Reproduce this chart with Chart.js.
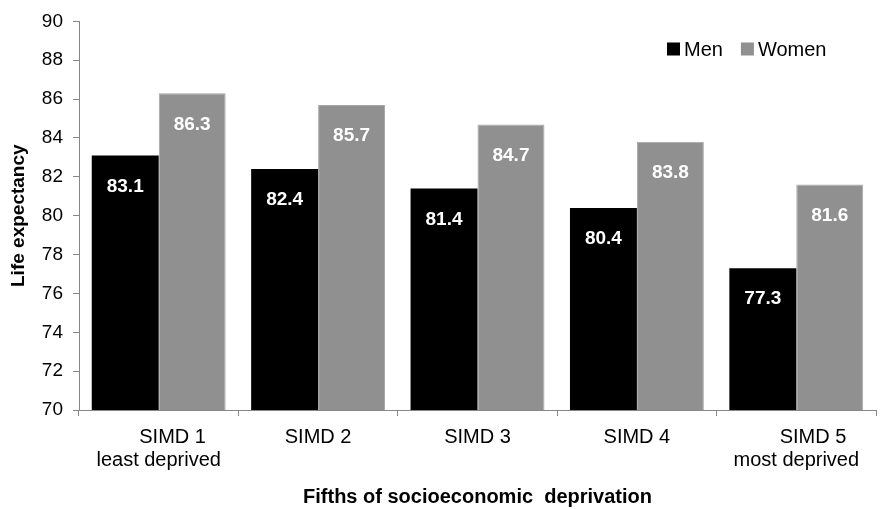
<!DOCTYPE html>
<html>
<head>
<meta charset="utf-8">
<script src="https://cdn.jsdelivr.net/npm/chart.js@4/dist/chart.umd.min.js"></script>
<style>
    html, body { margin: 0; padding: 0; background: #ffffff; }
    #wrap { width: 883px; height: 509px; }
</style>
</head>
<body>
<div id="wrap"><canvas id="chart1" width="883" height="509"></canvas></div>
<script>
// categories (leading spaces keep the first line shifted like the original)
var categories = [
    ['     SIMD 1', 'least deprived'],
    'SIMD 2',
    'SIMD 3',
    'SIMD 4',
    ['      SIMD 5', 'most deprived']
];
var men = [83.1, 82.4, 81.4, 80.4, 77.3];
var women = [86.3, 85.7, 84.7, 83.8, 81.6];
var yTicks = [70, 72, 74, 76, 78, 80, 82, 84, 86, 88, 90];

var FONT = "'Liberation Sans', Arial, sans-serif";
var AXIS_GREY = '#878787';

// white value labels inside the top of each bar
var valueLabels = {
    id: 'valueLabels',
    afterDatasetsDraw: function (chart) {
        var ctx = chart.ctx;
        ctx.save();
        ctx.fillStyle = '#ffffff';
        ctx.font = 'bold 19px ' + FONT;
        ctx.textAlign = 'center';
        ctx.textBaseline = 'middle';
        chart.data.datasets.forEach(function (ds, i) {
            chart.getDatasetMeta(i).data.forEach(function (bar, j) {
                ctx.fillText(ds.data[j].toFixed(1), bar.x, bar.y + 31);
            });
        });
        ctx.restore();
    }
};

// legend sitting inside the plot, top right
var innerLegend = {
    id: 'innerLegend',
    afterDraw: function (chart) {
        var ctx = chart.ctx;
        var x = chart.chartArea.right - 209;
        var y = 49;
        ctx.save();
        ctx.font = '20px ' + FONT;
        ctx.textBaseline = 'middle';
        ctx.textAlign = 'left';
        chart.data.datasets.forEach(function (ds) {
            ctx.fillStyle = ds.backgroundColor;
            ctx.fillRect(x, y - 6.5, 13, 13);
            ctx.fillStyle = '#000000';
            ctx.fillText(ds.label, x + 17, y + 1);
            x += 17 + ctx.measureText(ds.label).width + 18;
        });
        ctx.restore();
    }
};

document.addEventListener("DOMContentLoaded", function () {
    var ctx = document.getElementById('chart1').getContext('2d');
    var barChart = new Chart(ctx, {
        type: 'bar',
        data: {
            labels: categories,
            datasets: [{
                label: 'Men',
                data: men,
                backgroundColor: '#000000',
                categoryPercentage: 0.84,
                barPercentage: 1.0
            }, {
                label: 'Women',
                data: women,
                backgroundColor: '#909090',
                borderColor: '#a6a6a6',
                borderWidth: 1,
                categoryPercentage: 0.84,
                barPercentage: 1.0
            }]
        },
        options: {
            responsive: false,
            animation: false,
            layout: {
                padding: { top: 20, right: 7, left: 0, bottom: 0 }
            },
            plugins: {
                legend: { display: false },
                tooltip: { enabled: false }
            },
            scales: {
                x: {
                    afterFit: function (s) { s.height = 99; },
                    ticks: {
                        color: '#000000',
                        padding: 10,
                        maxRotation: 0,
                        autoSkip: false,
                        font: { family: FONT, size: 20, lineHeight: 1.15 }
                    },
                    grid: {
                        display: true,
                        drawOnChartArea: false,
                        color: AXIS_GREY,
                        tickLength: 6
                    },
                    border: { color: AXIS_GREY, width: 1 },
                    title: {
                        display: true,
                        text: 'Fifths of socioeconomic  deprivation',
                        color: '#000000',
                        padding: { top: 0, bottom: 0 },
                        font: { family: FONT, size: 20, weight: 'bold', lineHeight: 1.15 }
                    }
                },
                y: {
                    min: 70,
                    max: 90,
                    afterFit: function (s) { s.width = 79; },
                    afterBuildTicks: function (s) {
                        s.ticks = yTicks.map(function (v) { return { value: v }; });
                    },
                    ticks: {
                        color: '#000000',
                        padding: 10,
                        font: { family: FONT, size: 19 }
                    },
                    grid: {
                        display: true,
                        drawOnChartArea: false,
                        color: AXIS_GREY,
                        tickLength: 6
                    },
                    border: { color: AXIS_GREY, width: 1 },
                    title: {
                        display: true,
                        text: 'Life expectancy',
                        color: '#000000',
                        padding: { top: 8, bottom: 0 },
                        font: { family: FONT, size: 19, weight: 'bold', lineHeight: 1.15 }
                    }
                }
            }
        },
        plugins: [valueLabels, innerLegend]
    });
});
</script>
</body>
</html>
